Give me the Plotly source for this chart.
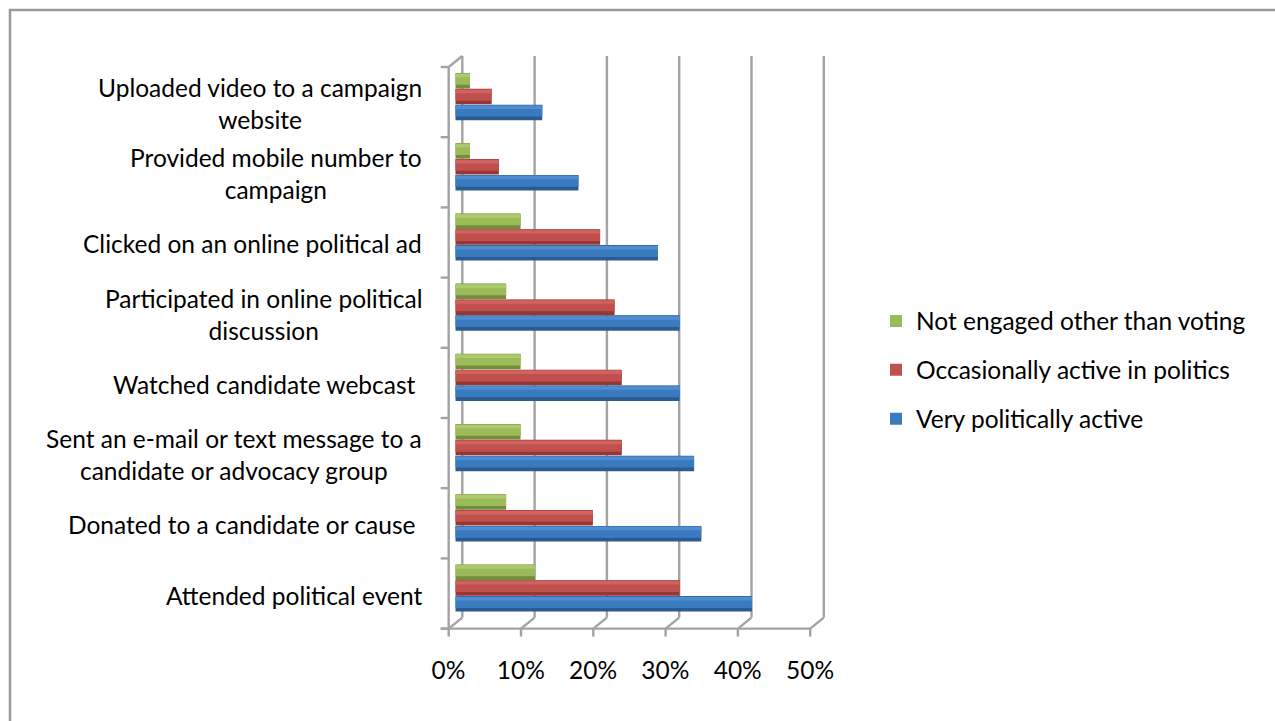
import plotly.graph_objects as go

# Survey categories, bottom to top
categories = [
    "Attended political event",
    "Donated to a candidate or cause",
    "Sent an e-mail or text message to a candidate or advocacy group",
    "Watched candidate webcast",
    "Participated in online political discussion",
    "Clicked on an online political ad",
    "Provided mobile number to campaign",
    "Uploaded video to a campaign website",
]
tick_labels = [
    "Attended political event",
    "Donated to a candidate or cause\u00a0",
    "Sent an e-mail or text message to a<br>candidate or advocacy group",
    "Watched candidate webcast\u00a0",
    "Participated in online political<br>discussion",
    "Clicked on an online political ad",
    "Provided mobile number to<br>campaign",
    "Uploaded video to a campaign<br>website",
]

# Share of each group (percent)
very_active = [41, 34, 33, 31, 31, 28, 17, 12]
occasionally_active = [31, 19, 23, 23, 22, 20, 6, 5]
not_engaged = [11, 7, 9, 9, 7, 9, 2, 2]

x_ticks = [0, 10, 20, 30, 40, 50]
x_tick_text = ["0%", "10%", "20%", "30%", "40%", "50%"]

W, H = 1275, 721
FONT = "Lato"
FS = 24.5

# axis geometry (pixels)
X_ZERO_PX = 455.5
PX_PER_PCT = 7.23
Y_FIRST_PX = 588.0          # centre of the first category
PX_PER_CAT = 70.2
DOM_L, DOM_R, DOM_T, DOM_B = 432, 835, 46, 640
DX, DY = 6.8, 5.5           # half depth of the 3-D box

x_range = [(DOM_L - X_ZERO_PX) / PX_PER_PCT, (DOM_R - X_ZERO_PX) / PX_PER_PCT]
y_range = [(Y_FIRST_PX - DOM_B) / PX_PER_CAT, (Y_FIRST_PX - DOM_T) / PX_PER_CAT]

bx = DX / PX_PER_PCT
by = DY / PX_PER_CAT
px_x = 1 / PX_PER_PCT
px_y = 1 / PX_PER_CAT

# name, values, offset of bar centre within the category, (shadow, body, sheen)
series = [
    ("Very politically active", very_active, -0.226,
     ("#2a5b92", "#3a7abf", "#4f8dd0")),
    ("Occasionally active in politics", occasionally_active, 0.0,
     ("#973632", "#c0504d", "#d0635f")),
    ("Not engaged other than voting", not_engaged, 0.226,
     ("#738d3c", "#9bbb59", "#adc96e")),
]

fig = go.Figure()
T = 15.5 / PX_PER_CAT  # bar thickness in category units
positions = list(range(len(categories)))

# legend lists the top series first, so add them top-down
for name, vals, centre, (dark, mid, light) in reversed(series):
    # shaded underside of the cylinder
    fig.add_trace(go.Bar(
        y=positions, x=vals, orientation="h",
        offset=centre - T / 2, width=T,
        marker=dict(color=dark, line=dict(width=0)),
        showlegend=False, legendgroup=name, hoverinfo="skip",
    ))
    # main body
    fig.add_trace(go.Bar(
        y=positions, x=vals, orientation="h",
        offset=centre - T / 2 + 0.24 * T, width=0.74 * T,
        marker=dict(color=mid, line=dict(width=0)),
        name=name, legendgroup=name, showlegend=True,
        hovertemplate="%{x}%<extra>" + name + "</extra>",
    ))
    # soft sheen near the top
    fig.add_trace(go.Bar(
        y=positions, x=vals, orientation="h",
        offset=centre + 0.22 * T, width=0.22 * T,
        marker=dict(color=light, line=dict(width=0)),
        showlegend=False, legendgroup=name, hoverinfo="skip",
    ))

GRID = "#a3a3a3"
LW = 2.4
shapes = []


def seg(x0, y0, x1, y1):
    shapes.append(dict(type="line", xref="x", yref="y", x0=x0, y0=y0,
                       x1=x1, y1=y1, line=dict(color=GRID, width=LW),
                       layer="below"))


bottom = -0.5
top = len(categories) - 0.5
for v in x_ticks:
    seg(v + bx, bottom + by, v + bx, top + by)                # back wall
    seg(v - bx, bottom - by, v + bx, bottom + by)             # floor depth edge
    seg(v - bx, bottom - by, v - bx, bottom - by - 8 * px_y)  # tick mark
# front floor edge
seg(-bx - 8 * px_x, bottom - by, x_ticks[-1] - bx, bottom - by)
# front left edge with category ticks
seg(-bx, bottom - by, -bx, top - by)
seg(-bx, top - by, bx, top + by)
for k in range(len(categories) + 1):
    seg(-bx - 8 * px_x, k - 0.5 - by, -bx, k - 0.5 - by)

# chart area border
shapes.append(dict(type="rect", xref="paper", yref="paper",
                   x0=10 / W, x1=1.02, y0=-0.02, y1=1 - 10 / H,
                   line=dict(color="#9a9a9a", width=2.5), layer="below"))

annotations = []
for cat_i, lab in enumerate(tick_labels):
    annotations.append(dict(
        xref="paper", yref="y", x=423.5 / W, y=cat_i, yshift=-7,
        xanchor="right", yanchor="middle", align="center",
        text=lab, showarrow=False,
        font=dict(family=FONT, size=FS, color="#000000"),
    ))

fig.update_layout(
    width=W, height=H, autosize=False,
    margin=dict(l=0, r=0, t=0, b=0),
    paper_bgcolor="white", plot_bgcolor="white",
    barmode="overlay",
    font=dict(family=FONT, size=FS, color="#000000"),
    xaxis=dict(
        domain=[DOM_L / W, DOM_R / W], range=x_range,
        tickvals=x_ticks, ticktext=x_tick_text,
        showgrid=False, zeroline=False, showline=False, ticks="",
        ticklabelshift=-7, ticklabelstandoff=13,
        tickfont=dict(family=FONT, size=FS, color="#000000"),
        fixedrange=True,
    ),
    yaxis=dict(
        domain=[1 - DOM_B / H, 1 - DOM_T / H], range=y_range,
        showgrid=False, zeroline=False, showline=False, ticks="",
        showticklabels=False, fixedrange=True,
    ),
    legend=dict(
        x=876 / W, xanchor="left", y=1 - 370 / H, yanchor="middle",
        traceorder="grouped", tracegroupgap=14,
        font=dict(family=FONT, size=FS, color="#000000"),
        bgcolor="rgba(0,0,0,0)",
    ),
    shapes=shapes,
    annotations=annotations,
    showlegend=True,
)

fig.write_html("out.html")
